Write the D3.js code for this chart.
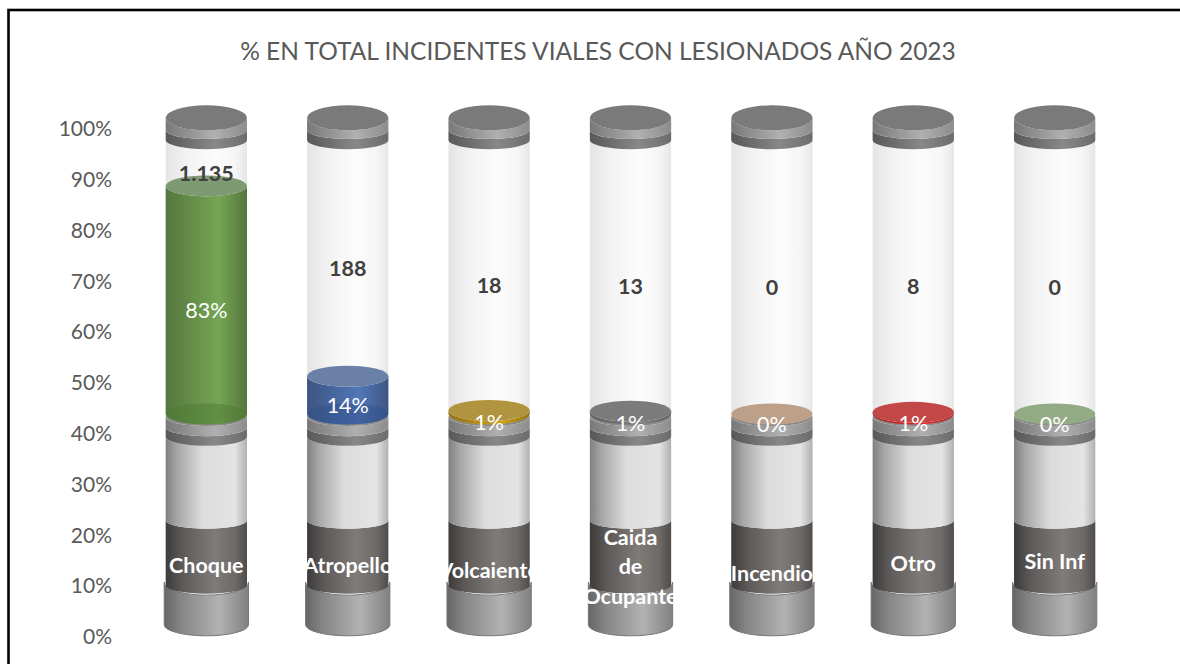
<!DOCTYPE html>
<html>
<head>
<meta charset="utf-8">
<script src="https://cdn.jsdelivr.net/npm/d3@7"></script>
<style>
  html, body { margin: 0; padding: 0; background: #fff; overflow: hidden; }
</style>
</head>
<body>
<svg id="chart" width="1180" height="664"></svg>
<script>
// chart data
const categories = ["Choque", "Atropello", "Volcaiento", "Caida de Ocupante", "Incendio", "Otro", "Sin Inf"];
const countLabels = ["1.135", "188", "18", "13", "0", "8", "0"];
const percents = [83.3, 13.8, 1.3, 1.0, 0, 0.6, 0];
const percentLabels = ["83%", "14%", "1%", "1%", "0%", "1%", "0%"];
const fillColors = ["#70ad47", "#4472c4", "#e0a800", "#808080", "#ed7d31", "#ff1010", "#a9d18e"];
const topColors = ["#7e9a72", "#6a80a6", "#b0943f", "#7b7b7b", "#bda08a", "#c24848", "#93ab85"];
const yTicks = [0, 10, 20, 30, 40, 50, 60, 70, 80, 90, 100];

// stops of the cylinder parts, in axis units
const baseStops = [2.4, 10.8];
const darkStops = [10.2, 23];
const silverStops = [23, 39.4];
const lowerCapStops = [39.4, 41.3, 43.3];
const glassStops = [43.9, 97.8];
const upperCapStops = [97.8, 99.8, 102.2];

const svg = d3.select("#chart");
const margin = { left: 136, right: 1125, top: 129, bottom: 637 };
const font = "Lato, 'Open Sans', sans-serif";

const x = d3.scaleBand().domain(categories).range([margin.left, margin.right]).paddingInner(0.425).paddingOuter(0.21);
const y = d3.scaleLinear().domain([0, 100]).range([margin.bottom, margin.top]);
const fillY = d3.scaleLinear().domain([0, 100]).range([y(glassStops[0]), y(glassStops[1])]);

// horizontal gradients
const defs = svg.append("defs");
function gradient(id, stops) {
    const g = defs.append("linearGradient").attr("id", id);
    stops.forEach(s => g.append("stop").attr("offset", s[0]).attr("stop-color", s[1]));
}
gradient("gGlass", [[0, "#e4e4e4"], [0.25, "#f2f2f2"], [0.6, "#fcfcfc"], [0.85, "#f6f6f6"], [1, "#e6e6e6"]]);
gradient("gSilver", [[0, "#808080"], [0.15, "#a8a8a8"], [0.45, "#dcdcdc"], [0.85, "#e4e4e4"], [1, "#b0b0b0"]]);
gradient("gDark", [[0, "#3d3b3a"], [0.2, "#5c5958"], [0.6, "#7f7b79"], [0.85, "#6e6a68"], [1, "#4f4c4b"]]);
gradient("gBase", [[0, "#666"], [0.2, "#858585"], [0.65, "#b2b2b2"], [1, "#808080"]]);
gradient("gCapLight", [[0, "#787878"], [0.6, "#b0b0b0"], [1, "#8c8c8c"]]);
gradient("gCapDark", [[0, "#585858"], [0.6, "#888888"], [1, "#6c6c6c"]]);
categories.forEach((c, i) => {
    const edge = d3.interpolateRgb(fillColors[i], "#333")(0.45);
    const mid = d3.interpolateRgb(fillColors[i], "#888")(0.2);
    gradient("gFill" + i, [[0, edge], [0.65, mid], [1, edge]]);
});

// frame, runs off the right and bottom of the picture
svg.append("rect").attr("x", 8.5).attr("y", 10).attr("width", 1200).attr("height", 700)
    .attr("fill", "#fff").attr("stroke", "#000").attr("stroke-width", 2.6);

// title
svg.append("text").attr("x", 598).attr("y", 60).attr("text-anchor", "middle")
    .attr("font-family", font).attr("font-size", 24.5).attr("fill", "#595959")
    .text("% EN TOTAL INCIDENTES VIALES CON LESIONADOS AÑO 2023");

// y axis
const yAxis = d3.axisLeft(y).tickValues(yTicks).tickFormat(d => d + "%").tickSize(0).tickPadding(0);
const axisG = svg.append("g").attr("transform", "translate(112,0)").call(yAxis);
axisG.select(".domain").remove();
axisG.selectAll("text").attr("font-family", font).attr("font-size", 21).attr("fill", "#595959");

// one side band of a cylinder between two axis values, with elliptical ends
function tube(cx, rx, yTop, yBottom, ryTop, ryBottom) {
    return "M" + (cx - rx) + "," + yTop
        + "A" + rx + "," + ryTop + " 0 0 0 " + (cx + rx) + "," + yTop
        + "L" + (cx + rx) + "," + yBottom
        + "A" + rx + "," + ryBottom + " 0 0 1 " + (cx - rx) + "," + yBottom + "Z";
}

const rx = x.bandwidth() / 2;
// small vertical nudges of the category labels, as seen in the picture
const labelNudge = [2, 2, 7, 3.5, 10, 0, -2];
const columns = svg.selectAll("g.column").data(categories).join("g").attr("class", "column");

columns.each(function(c, i) {
    const g = d3.select(this);
    const cx = x(c) + rx;

    // base foot
    g.append("path").attr("d", tube(cx, rx + 1.5, y(baseStops[1]), y(baseStops[0]), 13, 11))
        .attr("fill", "url(#gBase)").attr("stroke", "#777").attr("stroke-width", 1);
    // dark tube, this one holds the category label
    g.append("path").attr("d", tube(cx, rx, y(darkStops[1]), y(darkStops[0]), 8.5, 8.5))
        .attr("fill", "url(#gDark)");
    // silver tube
    g.append("path").attr("d", tube(cx, rx, y(silverStops[1]), y(silverStops[0]), 9, 8.5))
        .attr("fill", "url(#gSilver)");
    // lower cap
    g.append("path").attr("d", tube(cx, rx, y(lowerCapStops[1]), y(lowerCapStops[0]), 9, 9))
        .attr("fill", "url(#gCapDark)");
    g.append("path").attr("d", tube(cx, rx, y(lowerCapStops[2]), y(lowerCapStops[1]), 9, 9))
        .attr("fill", "url(#gCapLight)");
    g.append("ellipse").attr("cx", cx).attr("cy", y(lowerCapStops[2])).attr("rx", rx).attr("ry", 9).attr("fill", "#8a8a8a");

    // glass tube
    g.append("path").attr("d", tube(cx, rx, y(glassStops[1]), y(glassStops[0]), 9, 10))
        .attr("fill", "url(#gGlass)");

    // fill, sized by the share of the total
    const yFill = fillY(percents[i]);
    g.append("path").attr("d", tube(cx, rx, yFill, fillY(0), 10.5, 10.5))
        .attr("fill", "url(#gFill" + i + ")");
    g.append("ellipse").attr("cx", cx).attr("cy", fillY(0)).attr("rx", rx).attr("ry", 10.5)
        .attr("fill", d3.color(fillColors[i]).darker(1)).attr("fill-opacity", percents[i] > 5 ? 0.5 : 0);
    g.append("ellipse").attr("cx", cx).attr("cy", yFill).attr("rx", rx).attr("ry", 10.5)
        .attr("fill", topColors[i]);

    // upper cap
    g.append("path").attr("d", tube(cx, rx, y(upperCapStops[1]), y(upperCapStops[0]), 9, 9))
        .attr("fill", "url(#gCapDark)");
    g.append("path").attr("d", tube(cx, rx, y(upperCapStops[2]), y(upperCapStops[1]), 12.5, 9))
        .attr("fill", "url(#gCapLight)");
    g.append("ellipse").attr("cx", cx).attr("cy", y(upperCapStops[2])).attr("rx", rx).attr("ry", 12.5).attr("fill", "#7a7a7a");

    // labels
    const clipId = "clip" + i;
    defs.append("clipPath").attr("id", clipId).append("rect")
        .attr("x", cx - 46).attr("y", 0).attr("width", 89).attr("height", 664);

    g.append("text").attr("x", cx).attr("y", fillY(percents[i] / 2) + 18).attr("text-anchor", "middle")
        .attr("font-family", font).attr("font-size", 21.5).attr("fill", "#fff")
        .text(percentLabels[i]);

    g.append("text").attr("x", cx).attr("y", fillY((percents[i] + 100) / 2) + 18).attr("text-anchor", "middle")
        .attr("font-family", font).attr("font-size", 21.5).attr("font-weight", 700).attr("fill", "#404040")
        .text(countLabels[i]);

    const words = c === "Caida de Ocupante" ? c.split(" ") : [c];
    const label = g.append("text").attr("clip-path", "url(#" + clipId + ")")
        .attr("text-anchor", "middle").attr("font-family", font).attr("font-size", 21.5)
        .attr("font-weight", 700).attr("fill", "#fff");
    const yMid = y(14.4) - (words.length - 1) * 29.5 / 2 + 7 + labelNudge[i];
    words.forEach((w, k) => label.append("tspan").attr("x", cx).attr("y", yMid + k * 29.5).text(w));
});
</script>
</body>
</html>
